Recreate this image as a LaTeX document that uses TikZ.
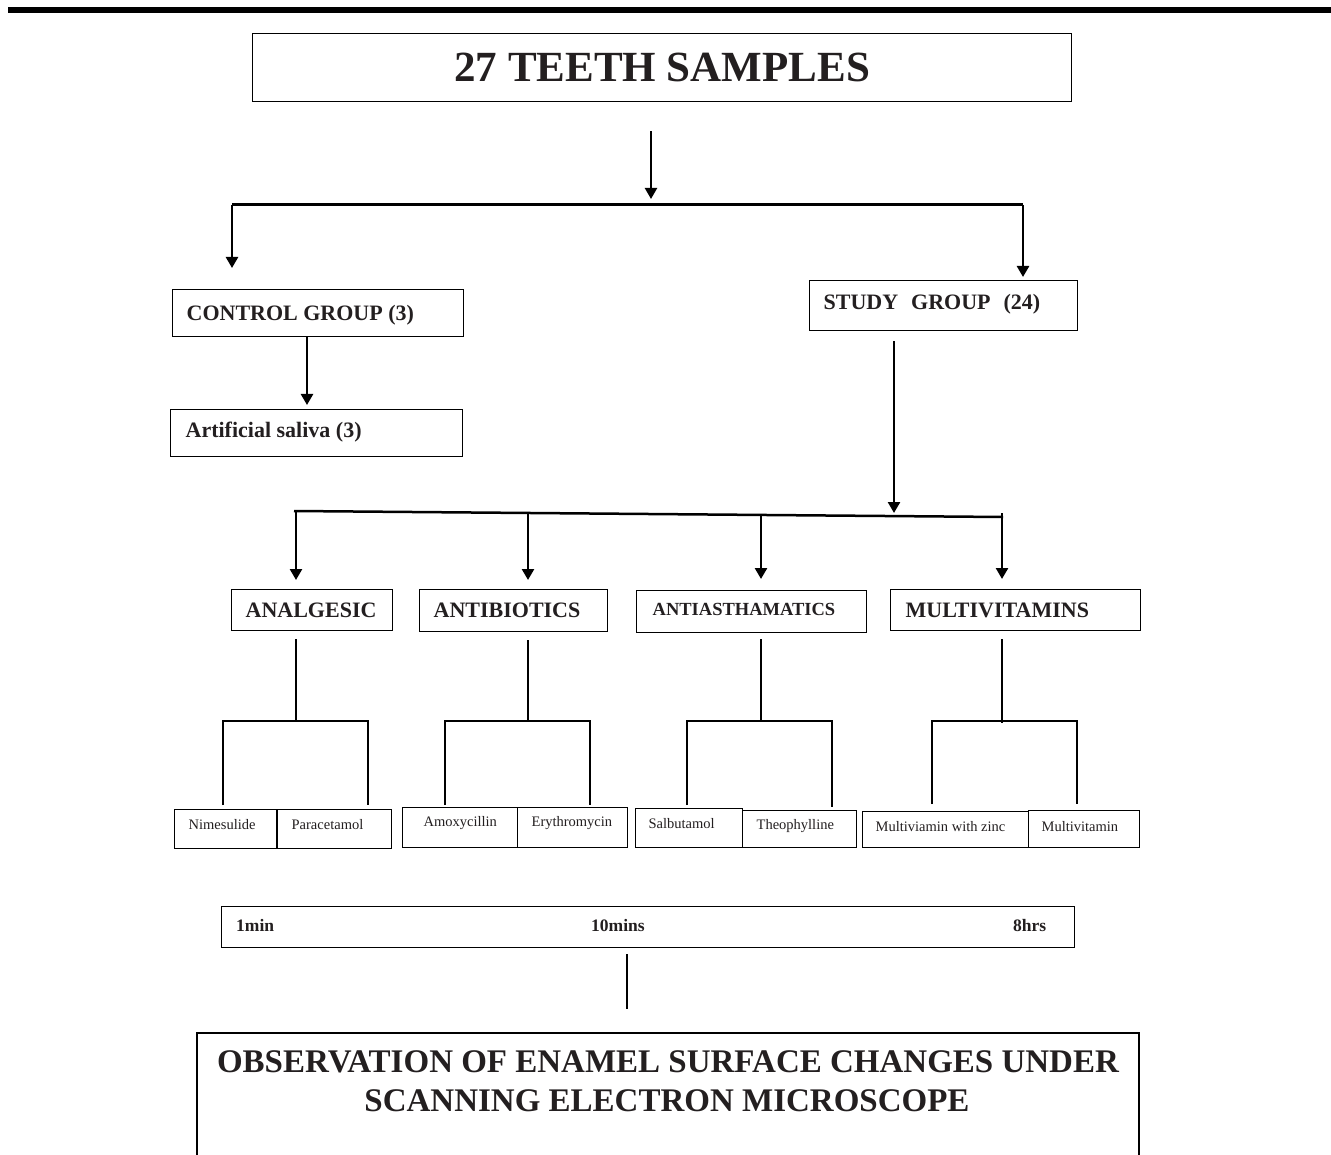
\documentclass[tikz,border=0pt]{standalone}
\usepackage{fontspec}
\setmainfont{Liberation Serif}
\usetikzlibrary{arrows.meta}
\definecolor{ink}{HTML}{231F20}
\newcommand\lbx[2]{\makebox[#1pt][l]{#2}}
\begin{document}
\begin{tikzpicture}[x=1pt,y=-1pt,
  box/.style={draw=black, line width=1.3pt, rectangle, anchor=north west, inner ysep=0pt, text=ink},
  conn/.style={draw=black, line width=2.5pt},
  arr/.style={conn, -{Triangle[length=11pt,width=12pt]}},
  big/.style={font=\fontsize{43pt}{48pt}\selectfont\bfseries},
  mid/.style={font=\fontsize{22pt}{26pt}\selectfont\bfseries, text height=14.6pt},
  midsm/.style={font=\fontsize{18.5pt}{22pt}\selectfont\bfseries, text height=12.2pt},
  sml/.style={font=\fontsize{14.5pt}{17pt}\selectfont, text height=9.6pt},
  tim/.style={font=\fontsize{17.5pt}{20pt}\selectfont\bfseries, text=ink, inner sep=0pt, anchor=base west},
  obs/.style={font=\fontsize{33pt}{39pt}\selectfont\bfseries, text=ink, inner sep=0pt, anchor=base},
]
\useasboundingbox (0,0) rectangle (1331,1155);
\fill[white] (0,0) rectangle (1331,1155);
% top rule
\draw[line width=6pt] (8,9.75) -- (1331,9.75);

% boxes
\node[box, big, inner xsep=0pt, minimum width=819pt, minimum height=68pt, text height=28.5pt, text depth=0pt] (title) at (252,33) {27 TEETH SAMPLES};
\node[box, mid, inner xsep=14pt, minimum height=47pt, text depth=0pt] (ctrl) at (172,289) {\lbx{263}{CONTROL GROUP (3)}};
\node[box, mid, inner xsep=15pt, minimum height=47pt, text depth=5pt] (saliva) at (170,409) {\lbx{262}{Artificial saliva (3)}};
\node[box, mid, inner xsep=14pt, minimum height=50pt, text depth=7pt] (study) at (809,280) {\lbx{240}{STUDY\hspace{13pt}GROUP\hspace{13pt}(24)}};

\node[box, mid, inner xsep=14pt, minimum height=41pt, text depth=0pt] (analg) at (231,589) {\lbx{133}{ANALGESIC}};
\node[box, mid, inner xsep=14pt, minimum height=42pt, text depth=0pt] (antib) at (419,589) {\lbx{160}{ANTIBIOTICS}};
\node[box, midsm, inner xsep=16pt, minimum height=42pt, text depth=5pt] (antia) at (636,590) {\lbx{198}{ANTIASTHAMATICS}};
\node[box, mid, inner xsep=15pt, minimum height=41pt, text depth=0pt] (multi) at (890,589) {\lbx{220}{MULTIVITAMINS}};

\node[box, sml, inner xsep=14pt, minimum height=39pt, text depth=9pt] (nime) at (174,809) {\lbx{74}{Nimesulide}};
\node[box, sml, inner xsep=14pt, minimum height=39pt, text depth=8pt] (para) at (277,809) {\lbx{86}{Paracetamol}};
\node[box, sml, inner xsep=21pt, minimum height=40pt, text depth=11pt] (amox) at (402,807) {\lbx{73}{Amoxycillin}};
\node[box, sml, inner xsep=14pt, minimum height=40pt, text depth=11pt] (eryt) at (517,807) {\lbx{82}{Erythromycin}};
\node[box, sml, inner xsep=13pt, minimum height=39pt, text depth=9pt] (salb) at (635,808) {\lbx{81}{Salbutamol}};
\node[box, sml, inner xsep=14pt, minimum height=37pt, text depth=9pt] (theo) at (742,810) {\lbx{86}{Theophylline}};
\node[box, sml, inner xsep=13pt, minimum height=36pt, text depth=6pt] (mvz) at (862,811) {\lbx{140}{Multiviamin with zinc}};
\node[box, sml, inner xsep=13pt, minimum height=37pt, text depth=5pt] (mv) at (1028,810) {\lbx{85}{Multivitamin}};

% time box
\node[box, inner sep=0pt, minimum width=853pt, minimum height=41pt] (times) at (221,906) {};
\node[tim] (t1) at (236,931) {1min};
\node[tim] (t2) at (591,931) {10mins};
\node[tim] (t3) at (1013,931) {8hrs};

% observation box (open at bottom)
\draw[line width=1.3pt] (197,1160) -- (197,1033) -- (1139,1033) -- (1139,1160);
\node[obs] (obs1) at (668,1072) {OBSERVATION OF ENAMEL SURFACE CHANGES UNDER};
\node[obs] (obs2) at (667,1111) {SCANNING ELECTRON MICROSCOPE};

% first branching
\coordinate (b1L) at (232,205);
\coordinate (b1M) at (651,205);
\coordinate (b1R) at (1023,205);
\draw[conn, line width=3pt] (b1L) -- (b1R);
\draw[arr, line width=2.2pt, shorten <=29pt, shorten >=6pt] (b1M |- title.south) -- (b1M);
\draw[arr, shorten >=21pt] (b1L) -- (b1L |- ctrl.north);
\draw[arr, shorten >=3pt] (b1R) -- (b1R |- study.north);

\coordinate (cs) at (307,0);
\draw[arr, shorten >=4pt] (cs |- ctrl.south) -- (cs |- saliva.north);

% second branching
\coordinate (b2L) at (294,511);
\coordinate (b2R) at (1003,517);
\draw[conn] (b2L) -- (b2R);
\coordinate (sm) at (894,516);
\draw[arr, shorten <=10pt, shorten >=3pt] (sm |- study.south) -- (sm);
\coordinate (j1) at (296,511);
\coordinate (j2) at (528,513);
\coordinate (j3) at (761,515);
\coordinate (j4) at (1002,513);
\draw[arr, shorten >=9pt] (j1) -- (j1 |- analg.north);
\draw[arr, shorten >=9pt] (j2) -- (j2 |- antib.north);
\draw[arr, shorten >=11pt] (j3) -- (j3 |- antia.north);
\draw[arr, shorten >=10pt] (j4) -- (j4 |- multi.north);

% group brackets
\coordinate (kA) at (296,721); \coordinate (kAl) at (223,721); \coordinate (kAr) at (368,721);
\draw[conn, shorten <=8pt] (kA |- analg.south) -- (kA);
\draw[conn, shorten <=4pt, shorten >=4pt] (kAl |- nime.north) -- (kAl) -- (kAr) -- (kAr |- para.north);

\coordinate (kB) at (528,721); \coordinate (kBl) at (445,721); \coordinate (kBr) at (590,721);
\draw[conn, shorten <=8pt] (kB |- antib.south) -- (kB);
\draw[conn, shorten <=2pt, shorten >=2pt] (kBl |- amox.north) -- (kBl) -- (kBr) -- (kBr |- eryt.north);

\coordinate (kC) at (761,721); \coordinate (kCl) at (687,721); \coordinate (kCr) at (832,721);
\draw[conn, shorten <=6pt] (kC |- antia.south) -- (kC);
\draw[conn, shorten <=3pt, shorten >=3pt] (kCl |- salb.north) -- (kCl) -- (kCr) -- (kCr |- theo.north);

\coordinate (kD) at (1002,723); \coordinate (kDl) at (932,721); \coordinate (kDr) at (1077,721);
\draw[conn, shorten <=8pt] (kD |- multi.south) -- (kD);
\draw[conn, shorten <=7pt, shorten >=6pt] (kDl |- mvz.north) -- (kDl) -- (kDr) -- (kDr |- mv.north);

% to observation
\coordinate (obstop) at (627,1033);
\draw[conn, line width=2.2pt, shorten <=6pt, shorten >=24pt] (obstop |- times.south) -- (obstop);
\end{tikzpicture}
\end{document}
